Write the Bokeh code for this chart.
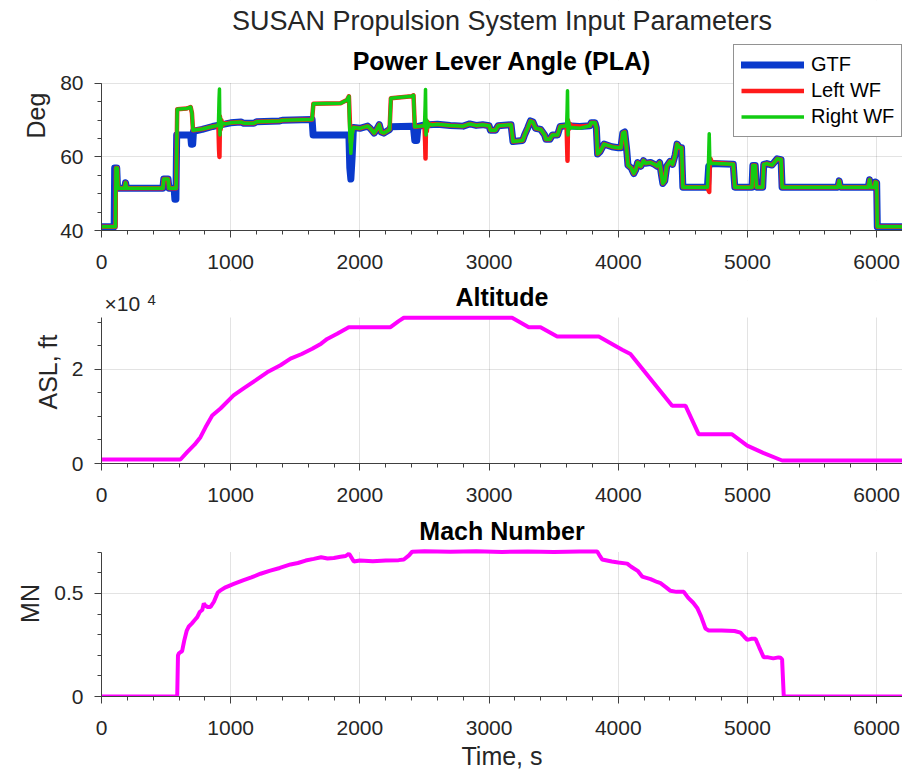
from bokeh.plotting import figure
from bokeh.models import (FixedTicker, Label, Legend, LegendItem, Range1d,
                          CustomJSTickFormatter, BoxAnnotation)
from bokeh.layouts import column
from bokeh.embed import file_html
from bokeh.resources import INLINE

FONT = "Liberation Sans"
TXT = "#262626"
AX = "#404040"

# ---------------- data ----------------
x_major = [0, 1000, 2000, 3000, 4000, 5000, 6000]
x_minor = list(range(0, 6201, 200))

# Power Lever Angle, GTF
gtf_t = [0, 98, 102, 118, 124, 180, 186, 194, 475, 482, 515, 522, 562, 568, 576, 582,
         690, 696, 706, 712, 780, 860, 900, 960, 1000, 1080, 1100, 1180, 1200, 1380, 1400,
         1630, 1638, 1915, 1922, 1930, 1940, 1950, 2000, 2060, 2080, 2110, 2130, 2150, 2165,
         2185, 2230, 2240, 2400, 2415, 2425, 2440, 2450, 2500, 2600, 2700, 2800, 2850, 2900,
         2950, 3000, 3010, 3050, 3070, 3170, 3185, 3260, 3275, 3300, 3320, 3340, 3360, 3400,
         3430, 3440, 3470, 3490, 3530, 3550, 3600, 3700, 3780, 3790, 3820, 3830, 3840, 3860,
         3890, 3950, 4000, 4020, 4035, 4050, 4065, 4075, 4100, 4120, 4135, 4150, 4175, 4195,
         4210, 4250, 4280, 4300, 4320, 4335, 4345, 4360, 4375, 4400, 4420, 4440, 4455, 4475,
         4490, 4500, 4690, 4700, 4720, 4890, 4902, 5035, 5042, 5060, 5070, 5118, 5126, 5150,
         5190, 5230, 5260, 5268, 5700, 5710, 5720, 5935, 5945, 5955, 5985, 5990, 6000, 6005,
         6200]
gtf_deg = [41, 41, 57, 57, 51.5, 51.5, 53, 51.5, 51.5, 54, 54, 51.5, 51.5, 48.5, 48.5, 66,
           66, 63.5, 63.5, 67, 67.5, 68.3, 68.6, 69, 69.3, 69.5, 69.2, 69.2, 69.6, 69.8, 70,
           70.2, 66, 66, 57, 54, 60, 68, 67.8, 68.4, 67.8, 66.5, 67.5, 68.8, 66.8,
           66.5, 67.5, 68.2, 68.4, 68, 64.5, 64.5, 68.3, 68.7, 68.9, 68.6, 68.4, 69, 68.6,
           68.8, 68.5, 67.3, 67.3, 68.5, 68.8, 64.2, 64.5, 66, 68, 69.8, 69.5, 67.8, 67.5,
           66, 64.8, 64.8, 66, 66, 68.3, 68.5, 68.3, 68.5, 69.3, 69.3, 68, 60.8, 61.5,
           63.5, 62.8, 62.5, 62.5, 66.5, 66.8, 62, 57.8, 57, 55.5, 56.5, 58.5, 57.5, 59,
           58.3, 58.5, 58, 57.5, 58.5, 55, 52.8, 53.5, 57.5, 58.8, 58, 60.5, 63.5, 62.5,
           62.5, 51.8, 51.8, 57.5, 58.2, 58, 51.8, 51.8, 57.7, 57.7, 51.8, 51.8, 58, 58.2,
           57.8, 59.5, 59.3, 51.8, 51.8, 53.5, 51.8, 51.8, 53.8, 51.8, 51.8, 53.2, 53, 41,
           41]

# Power Lever Angle, left and right wing fans (shared time base)
wf_t = [0, 108, 112, 122, 128, 180, 186, 194, 475, 482, 515, 522, 578, 586, 660, 690, 700,
        708, 780, 860, 905, 910, 913, 917, 922, 928, 935, 960, 1000, 1080, 1100, 1180, 1200,
        1380, 1400, 1630, 1640, 1850, 1900, 1915, 1922, 1930, 1940, 1950, 2000, 2060, 2080,
        2110, 2130, 2150, 2165, 2185, 2230, 2240, 2400, 2415, 2425, 2500, 2505, 2508, 2512,
        2518, 2525, 2535, 2560, 2600, 2700, 2800, 2850, 2900, 2950, 3000, 3010, 3050, 3070,
        3170, 3185, 3260, 3275, 3300, 3320, 3340, 3360, 3400, 3430, 3440, 3470, 3490, 3530,
        3550, 3600, 3604, 3607, 3611, 3617, 3625, 3640, 3700, 3780, 3790, 3820, 3830, 3840,
        3860, 3890, 3950, 4000, 4020, 4035, 4050, 4065, 4075, 4100, 4120, 4135, 4150, 4175,
        4195, 4210, 4250, 4280, 4300, 4320, 4335, 4345, 4360, 4375, 4400, 4420, 4440, 4455,
        4475, 4490, 4500, 4690, 4698, 4704, 4708, 4714, 4725, 4890, 4902, 5035, 5042, 5060,
        5070, 5118, 5126, 5150, 5190, 5230, 5260, 5268, 5700, 5710, 5720, 5935, 5945, 5955,
        5985, 5990, 6000, 6005, 6200]
left_deg = [41, 41, 57, 57, 51.5, 51.5, 53, 51.5, 51.5, 54, 54, 51.5, 51.5, 73, 73.2, 73.6, 72,
            67.3, 67.6, 68.3, 68.6, 62, 60, 71, 67.5, 70, 68.6, 69.2, 69.3, 69.5, 69.2, 69.2, 69.6,
            69.8, 70, 70.2, 74.5, 74.6, 75.5, 76.5, 70, 64, 67, 68, 67.8, 68.4, 67.8,
            66.5, 67.5, 68.8, 66.8, 66.5, 67.5, 76, 76.5, 76.8, 68.2, 68.5, 64, 59.6, 70,
            67, 69.5, 68.6, 69, 68.9, 68.6, 68.4, 69, 68.6, 68.8, 68.5, 67.3, 67.3, 68.5,
            68.8, 64.2, 64.5, 66, 68, 69.8, 69.5, 67.8, 67.5, 66, 64.8, 64.8, 66, 66,
            68.3, 68.5, 63, 59, 70, 67.5, 69, 68.5, 68.3, 68.5, 69.3, 69.3, 68, 60.8,
            61.5, 63.5, 62.8, 62.5, 62.5, 66.5, 66.8, 62, 57.8, 57, 55.5, 56.5, 58.5, 57.5,
            59, 58.3, 58.5, 58, 57.5, 58.5, 55, 52.8, 53.5, 57.5, 58.8, 58, 60.5, 63.5,
            62.5, 62.5, 51.8, 51.8, 51, 50.5, 58, 59.5, 58.5, 58, 51.8, 51.8, 57.7, 57.7,
            51.8, 51.8, 58, 58.2, 57.8, 59.5, 59.3, 51.8, 51.8, 53.5, 51.8, 51.8, 53.8, 51.8,
            51.8, 53.2, 53, 41, 41]
right_deg = [41, 41, 57, 57, 51.5, 51.5, 53, 51.5, 51.5, 54, 54, 51.5, 51.5, 73, 73.2, 73.6, 72,
             67.3, 67.6, 68.3, 68.6, 76, 78.5, 66, 70.5, 68, 69.3, 69.0, 69.3, 69.5, 69.2, 69.2, 69.6,
             69.8, 70, 70.2, 74.5, 74.6, 75.5, 76.5, 66, 61, 66, 68, 67.8, 68.4, 67.8,
             66.5, 67.5, 68.8, 66.8, 66.5, 67.5, 76, 76.5, 76.8, 68.2, 68.5, 74, 78.4, 66,
             70, 68, 69, 68.7, 68.9, 68.6, 68.4, 69, 68.6, 68.8, 68.5, 67.3, 67.3, 68.5,
             68.8, 64.2, 64.5, 66, 68, 69.8, 69.5, 67.8, 67.5, 66, 64.8, 64.8, 66, 66,
             68.3, 68.5, 73, 78, 66, 69.5, 67.8, 68, 67.8, 68.5, 69.3, 69.3, 68, 60.8,
             61.5, 63.5, 62.8, 62.5, 62.5, 66.5, 66.8, 62, 57.8, 57, 55.5, 56.5, 58.5, 57.5,
             59, 58.3, 58.5, 58, 57.5, 58.5, 55, 52.8, 53.5, 57.5, 58.8, 58, 60.5, 63.5,
             62.5, 62.5, 51.8, 51.8, 58, 66.3, 60, 58.2, 58.3, 58, 51.8, 51.8, 57.7, 57.7,
             51.8, 51.8, 58, 58.2, 57.8, 59.5, 59.3, 51.8, 51.8, 53.5, 51.8, 51.8, 53.8, 51.8,
             51.8, 53.2, 53, 41, 41]

# Altitude (ft)
alt_t = [0, 611, 663, 720, 766, 805, 857, 921, 1022, 1100, 1192, 1282, 1385, 1463, 1550, 1631,
         1700, 1747, 1824, 1914, 2237, 2300, 2340, 3178, 3307, 3398, 3527, 3849, 4030, 4094,
         4417, 4520, 4623, 4881, 4998, 5126, 5268, 6200]
alt_ft = [850, 850, 2400, 4000, 5600, 7700, 10200, 11700, 14500, 16000, 17700, 19400, 20900,
          22300, 23300, 24400, 25500, 26500, 27600, 29000, 29000, 30300, 31000, 31000, 29000,
          29000, 27000, 27000, 24200, 23300, 12300, 12300, 6200, 6200, 3800, 2200, 640, 640]

# Mach number
mach_t = [0, 586, 592, 600, 610, 624, 640, 660, 676, 700, 720, 741, 760, 780, 792, 805, 820,
          844, 870, 900, 921, 960, 1024, 1100, 1160, 1231, 1300, 1380, 1463, 1520, 1580, 1643,
          1700, 1750, 1798, 1850, 1890, 1914, 1925, 1953, 2000, 2100, 2200, 2300, 2340, 2380,
          2405, 2500, 2700, 2900, 3100, 3300, 3500, 3700, 3837, 3860, 3875, 3950, 4000, 4069,
          4100, 4150, 4185, 4250, 4300, 4327, 4370, 4404, 4450, 4507, 4540, 4580, 4611, 4640,
          4675, 4700, 4800, 4900, 4946, 4975, 4998, 5030, 5062, 5090, 5126, 5160, 5200, 5240,
          5255, 5268, 5281, 6200]
mach_mn = [0, 0, 0.2, 0.21, 0.215, 0.22, 0.27, 0.32, 0.34, 0.355, 0.37, 0.385, 0.41, 0.42,
           0.452, 0.44, 0.435, 0.435, 0.46, 0.505, 0.515, 0.53, 0.547, 0.565, 0.578, 0.596,
           0.61, 0.624, 0.641, 0.648, 0.66, 0.668, 0.676, 0.67, 0.672, 0.678, 0.682, 0.693,
           0.685, 0.655, 0.66, 0.657, 0.66, 0.662, 0.665, 0.685, 0.703, 0.705, 0.703, 0.705,
           0.702, 0.704, 0.702, 0.704, 0.704, 0.68, 0.665, 0.655, 0.65, 0.645, 0.63, 0.61,
           0.582, 0.57, 0.556, 0.55, 0.53, 0.513, 0.508, 0.508, 0.48, 0.455, 0.43, 0.39, 0.33,
           0.32, 0.32, 0.318, 0.31, 0.29, 0.275, 0.28, 0.28, 0.24, 0.19, 0.19, 0.185, 0.19,
           0.188, 0.18, 0, 0]

pla_ticks = [40, 60, 80]
pla_minor = list(range(40, 81, 5))
alt_ticks = [0, 20000]
alt_minor = list(range(0, 30001, 5000))
mach_ticks = [0, 0.5]
mach_minor = [0, 0.1, 0.2, 0.3, 0.4, 0.5, 0.6, 0.7]

BLUE = "#0a3acc"
RED = "#ff1a1a"
GREEN = "#12cc12"
MAGENTA = "#ff00ff"


def make_fig(height, bottom, y_range):
    p = figure(width=902, height=height, x_range=Range1d(0, 6200), y_range=y_range,
               output_backend="svg", toolbar_location=None,
               min_border_left=101, min_border_right=0, min_border_top=0,
               min_border_bottom=bottom, background_fill_color="white",
               border_fill_color="white")
    p.outline_line_color = None
    return p


def style(p, yticks, yminor, ybounds, ylabel, xlabel=None):
    p.xaxis.ticker = FixedTicker(ticks=x_major, minor_ticks=x_minor)
    p.yaxis.ticker = FixedTicker(ticks=yticks, minor_ticks=yminor)
    p.yaxis.bounds = ybounds
    for ax in (p.xaxis[0], p.yaxis[0]):
        ax.axis_line_color = AX
        ax.major_tick_line_color = AX
        ax.minor_tick_line_color = AX
        ax.major_tick_in = 0
        ax.major_tick_out = 7
        ax.minor_tick_in = 0
        ax.minor_tick_out = 4
        ax.major_label_text_font = FONT
        ax.major_label_text_font_size = "21px"
        ax.major_label_text_color = TXT
        ax.axis_label_text_font = FONT
        ax.axis_label_text_font_size = "25px"
        ax.axis_label_text_font_style = "normal"
        ax.axis_label_text_color = TXT
    p.xaxis.major_label_standoff = 17
    p.yaxis.major_label_standoff = 11
    p.yaxis.axis_label = ylabel
    p.yaxis.axis_label_standoff = 7
    if xlabel:
        p.xaxis.axis_label = xlabel
        p.xaxis.axis_label_standoff = 4
    p.grid.grid_line_color = "#262626"
    p.grid.grid_line_alpha = 0.13
    p.grid.grid_line_width = 1
    # blank the area above the axes box so grid lines stop at its top
    p.add_layout(BoxAnnotation(bottom=ybounds[1] * 1.002, fill_color="white", fill_alpha=1,
                               line_alpha=0, level="underlay"))


def add_label(p, x, y, text, size="25px", bold=True, color="#000000", align="center",
              x_offset=0, y_offset=9):
    p.add_layout(Label(x=x, y=y, text=text, text_font=FONT, text_font_size=size,
                       text_font_style="bold" if bold else "normal", text_color=color,
                       text_align=align, text_baseline="alphabetic",
                       x_offset=x_offset, y_offset=y_offset))


# ---- PLA panel (frame spans 0..230 px) ----
p1 = make_fig(280, 50, Range1d(40, 102.585))
style(p1, pla_ticks, pla_minor, (40, 80), "Deg")
r_gtf = p1.line(gtf_t, gtf_deg, line_color=BLUE, line_width=7, line_join="round", line_cap="round")
r_left = p1.line(wf_t, left_deg, line_color=RED, line_width=4.5, line_join="round")
r_right = p1.line(wf_t, right_deg, line_color=GREEN, line_width=3.5, line_join="round")
add_label(p1, 3100, 94.6, "SUSAN Propulsion System Input Parameters", size="27px",
          bold=False, color=TXT)
add_label(p1, 3100, 83.55, "Power Lever Angle (PLA)")
legend = Legend(items=[LegendItem(label="GTF", renderers=[r_gtf]),
                       LegendItem(label="Left WF", renderers=[r_left]),
                       LegendItem(label="Right WF", renderers=[r_right])],
                location=(632, 93), label_text_font=FONT, label_text_font_size="20px",
                label_text_color="#000000", glyph_width=63, glyph_height=25,
                label_height=25, label_standoff=7, spacing=1, padding=7, margin=0,
                border_line_color="#262626", border_line_width=1,
                background_fill_color="white", background_fill_alpha=1)
p1.add_layout(legend)

# ---- Altitude panel (frame spans 280..463 px) ----
p2 = make_fig(230, 47, Range1d(0, 38936))
style(p2, alt_ticks, alt_minor, (0, 31000), "ASL, ft")
p2.yaxis.formatter = CustomJSTickFormatter(code="return (tick / 10000).toFixed(0);")
p2.line(alt_t, alt_ft, line_color=MAGENTA, line_width=4)
add_label(p2, 3100, 33400, "Altitude", y_offset=10)
add_label(p2, 0, 31000, "×10", size="21px", bold=False, color=TXT, align="left",
          x_offset=3, y_offset=14)
add_label(p2, 0, 31000, "4", size="15px", bold=False, color=TXT, align="left",
          x_offset=46, y_offset=18)

# ---- Mach panel (frame spans 510..696 px) ----
p3 = make_fig(266, 80, Range1d(0, 0.9029))
style(p3, mach_ticks, mach_minor, (0, 0.7), "MN", xlabel="Time, s")
p3.yaxis.formatter = CustomJSTickFormatter(code="return String(tick);")
p3.line(mach_t, mach_mn, line_color=MAGENTA, line_width=4)
add_label(p3, 3100, 0.757, "Mach Number", y_offset=10)

layout = column(p1, p2, p3, spacing=0)
open("out.html", "w").write(file_html(layout, INLINE))
